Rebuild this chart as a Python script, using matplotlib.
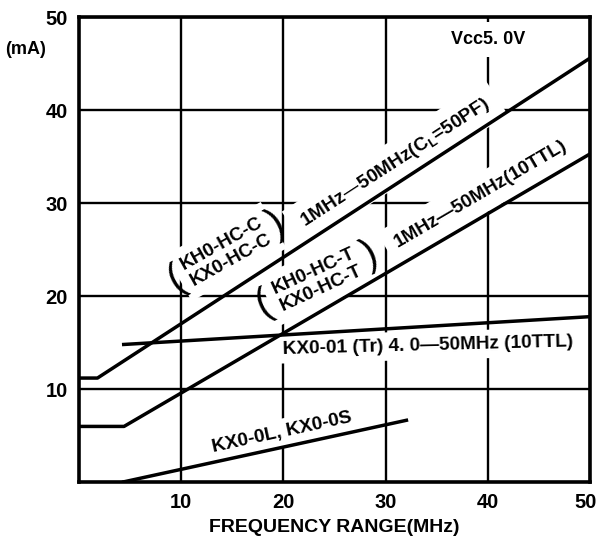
import numpy as np
import matplotlib
matplotlib.use("Agg")
import matplotlib.pyplot as plt
from matplotlib.transforms import ScaledTranslation

plt.rcParams['font.family'] = ['Liberation Sans', 'DejaVu Sans']

# ---- data ----
hc_c_freq = [0.0, 1.8, 50.0]
hc_c_current = [11.2, 11.2, 45.6]

hc_t_freq = [0.0, 4.4, 50.0]
hc_t_current = [6.0, 6.0, 35.3]

tr_freq = [4.2, 50.0]
tr_current = [14.8, 17.8]

ol_freq = [4.2, 32.2]
ol_current = [0.0, 6.7]

x_ticks = [10, 20, 30, 40, 50]
y_ticks = [10, 20, 30, 40, 50]

label_hc_c = "KH0-HC-C\nKX0-HC-C"
label_hc_c_range = "1MHz\u201450MHz(C$_\\mathregular{L}$=50PF)"
label_hc_t = "KH0-HC-T\nKX0-HC-T"
label_hc_t_range = "1MHz\u201450MHz(10TTL)"
label_tr = "KX0-01 (Tr) 4. 0\u201450MHz (10TTL)"
label_ol = "KX0-0L, KX0-0S"
label_vcc = "Vcc5. 0V"

fig = plt.figure(figsize=(5.99, 5.37), dpi=100)
ax = fig.add_axes([0.132, 0.102, 0.853, 0.866])
ax.set_xlim(0, 50)
ax.set_ylim(0, 50)

ax.set_xticks(x_ticks)
ax.set_yticks(y_ticks)
ax.set_xticklabels([str(v) for v in x_ticks])
ax.set_yticklabels([str(v) for v in y_ticks])
ax.tick_params(length=0, pad=8, labelsize=14.5)
for lab in ax.get_xticklabels() + ax.get_yticklabels():
    lab.set_fontweight('bold')
last = ax.get_xticklabels()[-1]
last.set_transform(last.get_transform() + ScaledTranslation(-4 / 100, 0, fig.dpi_scale_trans))

ax.grid(True, color='black', linewidth=1.7, zorder=1)
ax.set_axisbelow(True)
for s in ax.spines.values():
    s.set_linewidth(2.6)
    s.set_zorder(6)

lw = 2.5
for xs, ys in [(hc_c_freq, hc_c_current), (hc_t_freq, hc_t_current),
               (tr_freq, tr_current), (ol_freq, ol_current)]:
    ax.plot(xs, ys, color='black', lw=lw, zorder=5, solid_capstyle='butt')

fs = 13.7
fw = 'bold'


def label(x, y, s, rot, pad, **kw):
    common = dict(rotation=rot, ha='center', va='center', rotation_mode='anchor',
                  fontsize=kw.pop('fontsize', fs), fontweight=fw, **kw)
    # white mask under the text (hides the grid behind the label)
    ax.text(x, y, s, color='white', zorder=2,
            bbox=dict(boxstyle='square,pad=%g' % pad, facecolor='white', edgecolor='none'),
            **common)
    ax.text(x, y, s, color='black', zorder=4, **common)


def screen_angle(x, y, ang):
    return ax.transData.transform_angles(np.array([ang]), np.array([[x, y]]))[0]


def data_angle(xs, ys):
    return np.degrees(np.arctan2(ys[-1] - ys[-2], xs[-1] - xs[-2]))


def bracket_label(x, y, ang, text, half, pfs):
    a = screen_angle(x, y, ang)
    label(x, y, text, a, 0.45, multialignment='center', linespacing=1.15)
    r = np.radians(a)
    for sgn, ch in [(-1, '('), (1, ')')]:
        ax.annotate(ch, (x, y), xytext=(sgn * half * np.cos(r), sgn * half * np.sin(r)),
                    textcoords='offset points', rotation=a, ha='center', va='center',
                    rotation_mode='anchor', fontsize=pfs, zorder=4)


ang1 = data_angle(hc_c_freq, hc_c_current)
ang2 = data_angle(hc_t_freq, hc_t_current)

bracket_label(14.4, 24.8, ang1 - 4, label_hc_c, 41, 29)
label(30.9, 34.3, label_hc_c_range, screen_angle(30.9, 34.3, ang1), 0.55)

bracket_label(23.3, 21.8, ang2 - 6, label_hc_t, 42, 29)
label(39.3, 31.0, label_hc_t_range, screen_angle(39.3, 31.0, ang2), 0.55)

label(34.1, 14.7, label_tr, 1.5, 0.3)
label(19.9, 5.3, label_ol, screen_angle(19.9, 5.3, data_angle(ol_freq, ol_current)), 0.3)
label(40.0, 47.6, label_vcc, 0, 0.5, fontsize=13)

fig.text(0.042, 0.907, "(mA)", ha='center', va='center', fontsize=13, fontweight='bold')
ax.set_xlabel("FREQUENCY RANGE(MHz)", fontsize=14, fontweight='bold', labelpad=5)

fig.savefig("out.png", dpi=100)
